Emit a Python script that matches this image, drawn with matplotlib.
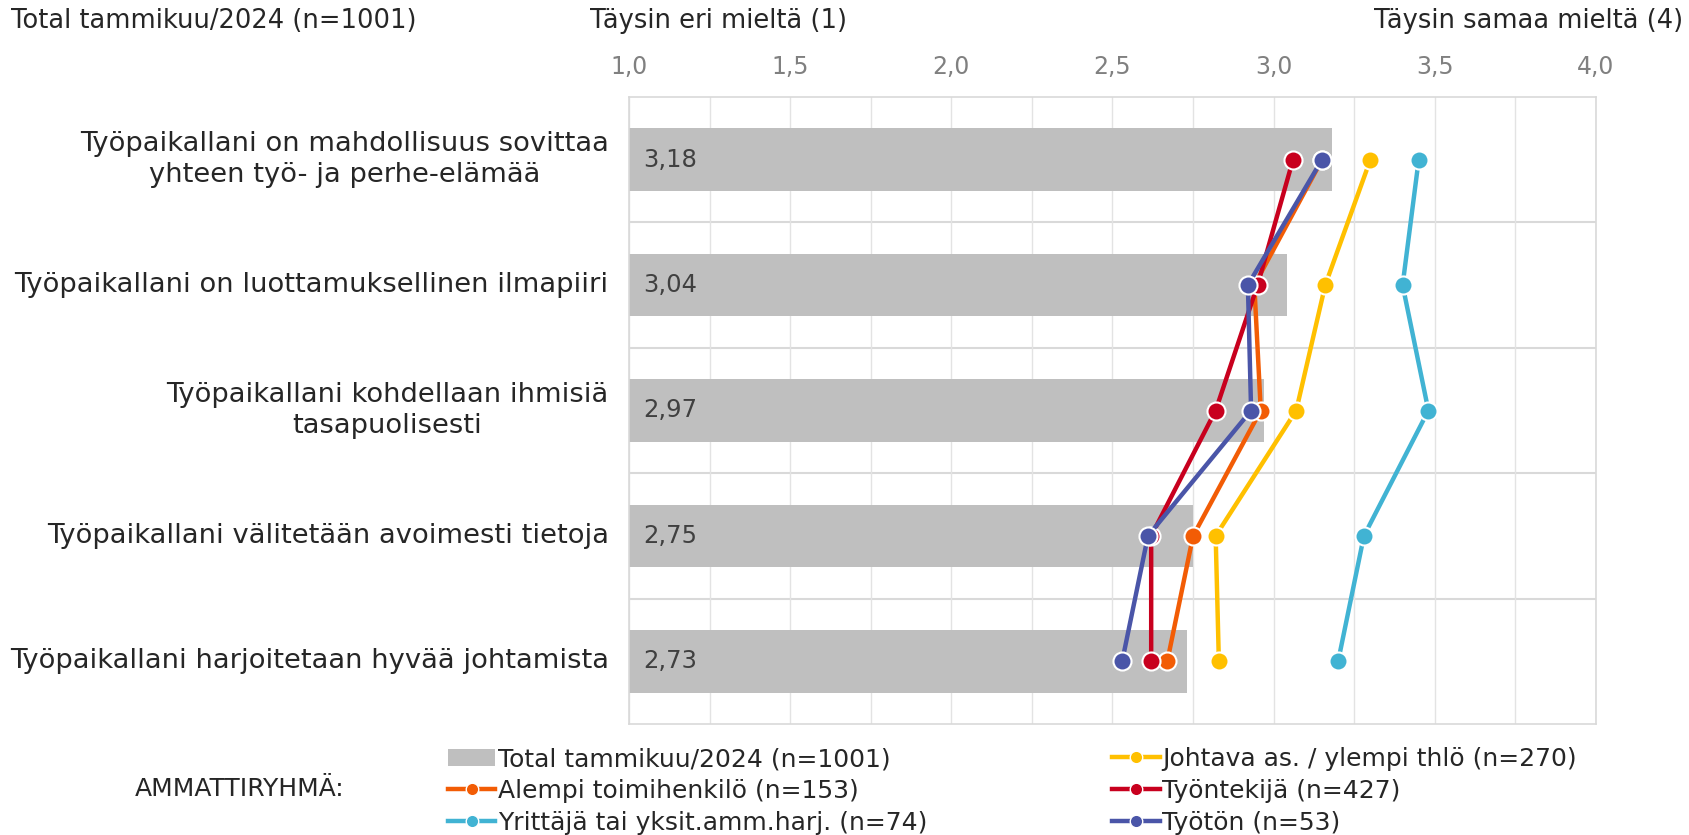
import matplotlib.pyplot as plt
from matplotlib.lines import Line2D
from matplotlib.patches import Patch
from matplotlib.transforms import blended_transform_factory

# ------------------------------------------------------------------
# Data
# ------------------------------------------------------------------
categories = [
    "Työpaikallani on mahdollisuus sovittaa\nyhteen työ- ja perhe-elämää",
    "Työpaikallani on luottamuksellinen ilmapiiri",
    "Työpaikallani kohdellaan ihmisiä\ntasapuolisesti",
    "Työpaikallani välitetään avoimesti tietoja",
    "Työpaikallani harjoitetaan hyvää johtamista",
]
total = [3.18, 3.04, 2.97, 2.75, 2.73]
total_label = "Total tammikuu/2024 (n=1001)"

johtava = [3.30, 3.16, 3.07, 2.82, 2.83]
alempi = [3.15, 2.94, 2.96, 2.75, 2.67]
tyontekija = [3.06, 2.95, 2.82, 2.62, 2.62]
yrittaja = [3.45, 3.40, 3.48, 3.28, 3.20]
tyoton = [3.15, 2.92, 2.93, 2.61, 2.53]

series = [
    ("Johtava as. / ylempi thlö (n=270)", johtava, "#FFC000"),
    ("Alempi toimihenkilö (n=153)", alempi, "#F25C05"),
    ("Työntekijä (n=427)", tyontekija, "#C8001E"),
    ("Yrittäjä tai yksit.amm.harj. (n=74)", yrittaja, "#41B3D3"),
    ("Työtön (n=53)", tyoton, "#4A55A8"),
]

xticks = [1.0, 1.5, 2.0, 2.5, 3.0, 3.5, 4.0]

plt.rcParams['font.family'] = ['DejaVu Sans']

# ------------------------------------------------------------------
# Figure
# ------------------------------------------------------------------
fig = plt.figure(figsize=(16.9, 8.35), dpi=100)
ax = fig.add_axes([629 / 1690, 1 - 724 / 835, (1596 - 629) / 1690, (724 - 97) / 835])

y = list(range(len(categories)))
ax.barh(y, [v - 1 for v in total], left=1, height=0.5, color="#BFBFBF", zorder=2)

for yi, v in zip(y, total):
    ax.annotate(f"{v:.2f}".replace(".", ","), (1, yi), xytext=(10, 0),
                textcoords="offset points", va="center", ha="left",
                fontsize=17.5, color="#404040", zorder=5)

for name, vals, col in series:
    ax.plot(vals, y, color=col, lw=3.2, marker="o", ms=13,
            markeredgecolor="white", markeredgewidth=1.5, zorder=3)

ax.set_xlim(1, 4)
ax.set_ylim(len(categories) - 0.5, -0.5)
ax.xaxis.tick_top()
ax.set_xticks(xticks)
ax.set_xticklabels([f"{t:.1f}".replace(".", ",") for t in xticks],
                   fontsize=17, color="#808080")
ax.set_xticks([1.25 + 0.5 * i for i in range(6)], minor=True)
ax.tick_params(axis="x", which="both", length=0, pad=13)
ax.set_yticks([])
ax.grid(axis="x", which="both", color="#E3E3E3", lw=1, zorder=0)
for b in [0.5, 1.5, 2.5, 3.5]:
    ax.axhline(b, color="#D9D9D9", lw=1.5, zorder=1)
for s in ax.spines.values():
    s.set_color("#D9D9D9")
    s.set_linewidth(1.2)

trans = blended_transform_factory(ax.transAxes, ax.transData)
for yi, cat in zip(y, categories):
    ax.text(-0.021, yi, cat, transform=trans, ha="right", va="center",
            multialignment="center", fontsize=19.7, color="#262626",
            linespacing=1.25)

# header texts
fig.text(11 / 1690, 1 - 21 / 835, total_label, fontsize=18.5, color="#262626",
         ha="left", va="center")
fig.text(590 / 1690, 1 - 21 / 835, "Täysin eri mieltä (1)", fontsize=18.5,
         color="#262626", ha="left", va="center")
fig.text(1683 / 1690, 1 - 21 / 835, "Täysin samaa mieltä (4)", fontsize=18.5,
         color="#262626", ha="right", va="center")

# legend
handles = {total_label: Patch(facecolor="#BFBFBF", edgecolor="none")}
for name, vals, col in series:
    handles[name] = Line2D([], [], color=col, lw=3.2, marker="o", ms=9,
                           markeredgecolor="white", markeredgewidth=1)
order = [total_label, series[1][0], series[3][0],
         series[0][0], series[2][0], series[4][0]]
fig.legend([handles[k] for k in order], order, ncol=2, frameon=False,
           loc="upper left", bbox_to_anchor=(438 / 1690, 1 - 737 / 835),
           fontsize=18, handlelength=1.9, handletextpad=0.1,
           columnspacing=7.4, labelspacing=0.32, borderaxespad=0,
           labelcolor="#262626")
fig.text(135 / 1690, 1 - 789 / 835, "AMMATTIRYHMÄ:", fontsize=18,
         color="#262626", ha="left", va="center")

fig.savefig("out.png", dpi=100)
